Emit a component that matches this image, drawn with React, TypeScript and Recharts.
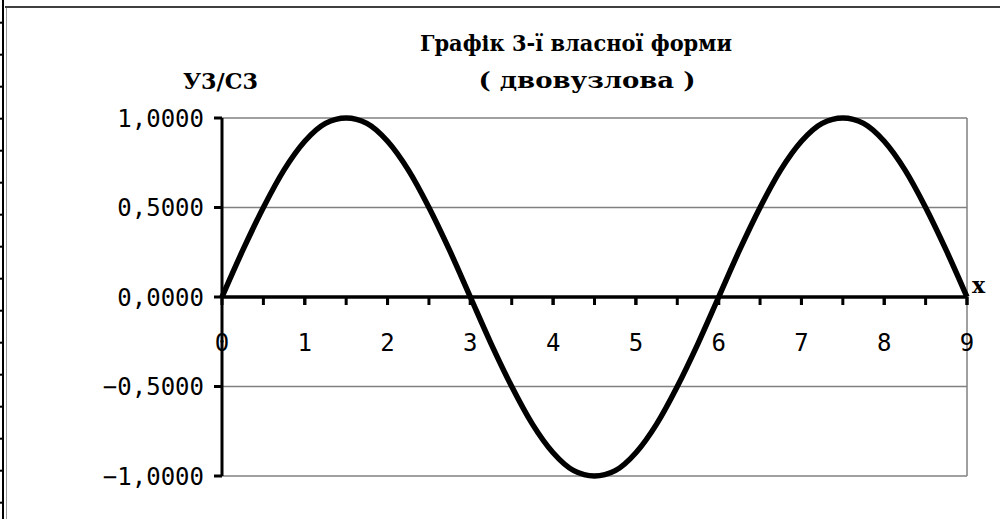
import React from 'react';
import { LineChart, Line, XAxis, YAxis, CartesianGrid, ReferenceLine, ReferenceDot } from 'recharts';

// x values and eigen-form ordinates
const xs = [
  0, 0.25, 0.5, 0.75, 1, 1.25, 1.5, 1.75, 2, 2.25, 2.5, 2.75, 3,
  3.25, 3.5, 3.75, 4, 4.25, 4.5, 4.75, 5, 5.25, 5.5, 5.75, 6,
  6.25, 6.5, 6.75, 7, 7.25, 7.5, 7.75, 8, 8.25, 8.5, 8.75, 9,
];
const ys = [
  0, 0.26, 0.5, 0.71, 0.87, 0.97, 1, 0.97, 0.87, 0.71, 0.5, 0.26, 0,
  -0.26, -0.5, -0.71, -0.87, -0.97, -1, -0.97, -0.87, -0.71, -0.5, -0.26, 0,
  0.26, 0.5, 0.71, 0.87, 0.97, 1, 0.97, 0.87, 0.71, 0.5, 0.26, 0,
];

const yTicks = [-1, -0.5, 0, 0.5, 1];
const xLabels = [0, 1, 2, 3, 4, 5, 6, 7, 8, 9];
const xMinorTicks = [0.5, 1, 1.5, 2, 2.5, 3, 3.5, 4, 4.5, 5, 5.5, 6, 6.5, 7, 7.5, 8, 8.5, 9];

const title1 = 'Графік 3-ї власної форми';
const title2 = '( двовузлова )';
const yTitle = 'У3/С3';
const xTitle = 'x';

const data = xs.map((x, i) => ({ x, y: ys[i] }));

const fmt = (v: number) => (v < 0 ? '\u2212' : '') + Math.abs(v).toFixed(4).replace('.', ',');

const MONO = 'DejaVu Sans Mono';
const SERIF = 'DejaVu Serif';

const xTickShape = (withLabel: boolean, label: number) => (p: any) => (
  <g>
    <line x1={p.cx} y1={p.cy} x2={p.cx} y2={p.cy + 8} stroke="#000" strokeWidth={3} />
    {withLabel && (
      <text x={p.cx} y={p.cy + 54} textAnchor="middle" fontFamily={MONO} fontSize={24} fill="#000">
        {label}
      </text>
    )}
  </g>
);

const rows = Array.from({ length: 16 }, (_, i) => 22.7 + i * 32);

export default function App() {
  return (
    <div style={{ position: 'absolute', left: 0, top: 0, width: 1000, height: 519, background: '#fff' }}>
      <LineChart width={1000} height={519} data={data} margin={{ top: 118, right: 33, bottom: 43, left: 0 }}>
        <CartesianGrid vertical={false} stroke="#808080" strokeWidth={1.5} />
        <XAxis dataKey="x" type="number" domain={[0, 9]} hide />
        <YAxis
          type="number"
          domain={[-1, 1]}
          ticks={yTicks}
          interval={0}
          tickFormatter={fmt}
          width={222}
          tickSize={8}
          tickMargin={10}
          axisLine={{ stroke: '#000', strokeWidth: 3 }}
          tickLine={{ stroke: '#000', strokeWidth: 3 }}
          tick={{ fill: '#000', fontSize: 24, fontFamily: MONO }}
        />
        <ReferenceLine x={9} stroke="#808080" strokeWidth={1.5} />
        <Line
          type="monotone"
          dataKey="y"
          stroke="#000"
          strokeWidth={5.5}
          strokeLinejoin="round"
          dot={false}
          isAnimationActive={false}
        />
        <ReferenceLine y={0} stroke="#000" strokeWidth={3.5} />
        {xMinorTicks.map((t) => (
          <ReferenceDot key={'t' + t} x={t} y={0} r={0} shape={xTickShape(false, t)} />
        ))}
        {xLabels.map((t) => (
          <ReferenceDot key={'l' + t} x={t} y={0} r={0} shape={xTickShape(true, t)} />
        ))}
      </LineChart>
      <svg width={1000} height={519} style={{ position: 'absolute', left: 0, top: 0, pointerEvents: 'none' }}>
        {/* worksheet edge */}
        <line x1={3} y1={0} x2={3} y2={519} stroke="#000" strokeWidth={2} />
        <line x1={6.5} y1={7} x2={6.5} y2={519} stroke="#999" strokeWidth={1} />
        <line x1={5} y1={7} x2={1000} y2={7} stroke="#404040" strokeWidth={2} />
        {rows.map((r) => (
          <line key={r} x1={0} y1={r} x2={3} y2={r} stroke="#000" strokeWidth={2} />
        ))}
        <text x={576} y={51} textAnchor="middle" fontFamily={SERIF} fontWeight="bold" fontSize={22}
          textLength={312} lengthAdjust="spacingAndGlyphs" fill="#000">
          {title1}
        </text>
        <text x={587} y={88} textAnchor="middle" fontFamily={SERIF} fontWeight="bold" fontSize={23}
          textLength={217} lengthAdjust="spacingAndGlyphs" fill="#000">
          {title2}
        </text>
        <text x={183} y={89} fontFamily={SERIF} fontWeight="bold" fontSize={22}
          textLength={75} lengthAdjust="spacingAndGlyphs" fill="#000">
          {yTitle}
        </text>
        <text x={972} y={293} fontFamily={SERIF} fontWeight="bold" fontSize={22} fill="#000">
          {xTitle}
        </text>
      </svg>
    </div>
  );
}
